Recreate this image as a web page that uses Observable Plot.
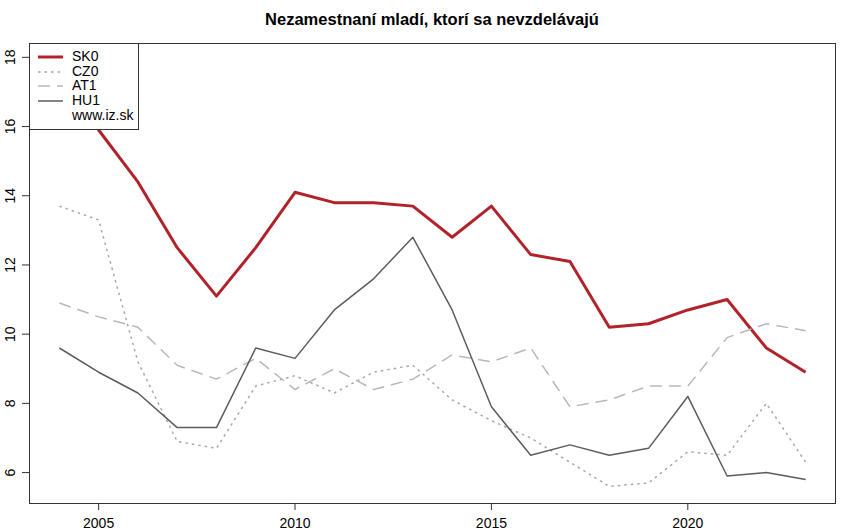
<!DOCTYPE html>
<html>
<head>
<meta charset="utf-8">
<script src="https://cdn.jsdelivr.net/npm/d3@7"></script>
<script src="https://cdn.jsdelivr.net/npm/@observablehq/plot@0.6"></script>
<style>
  body { margin: 0; background: #fff; font-family: "Liberation Sans", Arial, sans-serif; }
  #wrap { position: relative; width: 850px; height: 532px; }
  #title { position: relative; height: 30px; width: 850px; }
  #title span { position: absolute; left: 432px; top: 9px; transform: translateX(-50%); white-space: nowrap;
           font-weight: bold; font-size: 16.5px; line-height: 20px; }
  #legend { position: absolute; left: 29px; top: 43px; width: 108px; height: 85px; background: #fff;
            border: 1px solid #333; font-size: 14px; }
  .row { position: absolute; left: 0; height: 15px; }
  .row svg { position: absolute; left: 8px; top: 2px; }
  .row span { position: absolute; left: 42px; top: -2px; white-space: nowrap; }
</style>
</head>
<body>
<div id="wrap">
  <div id="title"><span>Nezamestnaní mladí, ktorí sa nevzdelávajú</span></div>
  <div id="chart"></div>
  <div id="legend"></div>
</div>
<script>
const years = [2004,2005,2006,2007,2008,2009,2010,2011,2012,2013,2014,2015,2016,2017,2018,2019,2020,2021,2022,2023];
const SK0 = [17.9,15.9,14.4,12.5,11.1,12.5,14.1,13.8,13.8,13.7,12.8,13.7,12.3,12.1,10.2,10.3,10.7,11.0,9.6,8.9];
const CZ0 = [13.7,13.3,9.2,6.9,6.7,8.5,8.8,8.3,8.9,9.1,8.1,7.5,7.0,6.3,5.6,5.7,6.6,6.5,8.0,6.3];
const AT1 = [10.9,10.5,10.2,9.1,8.7,9.3,8.4,9.0,8.4,8.7,9.4,9.2,9.6,7.9,8.1,8.5,8.5,9.9,10.3,10.1];
const HU1 = [9.6,8.9,8.3,7.3,7.3,9.6,9.3,10.7,11.6,12.8,10.7,7.9,6.5,6.8,6.5,6.7,8.2,5.9,6.0,5.8];
const xTicks = [2005,2010,2015,2020];
const yTicks = [6,8,10,12,14,16,18];
const seriesNames = ["SK0","CZ0","AT1","HU1"];
const seriesValues = [SK0, CZ0, AT1, HU1];
const styles = {
  SK0: {stroke: "#b2222a", strokeWidth: 3, dash: null},
  CZ0: {stroke: "#a8a8ac", strokeWidth: 1.5, dash: "2.5,4"},
  AT1: {stroke: "#b3b9c1", strokeWidth: 1.5, dash: "12,7"},
  HU1: {stroke: "#5c5c5c", strokeWidth: 1.5, dash: null}
};

const lineMarks = seriesNames.map((name, i) => {
  const rows = years.map((y, j) => ({year: y, value: seriesValues[i][j]}));
  const s = styles[name];
  return Plot.line(rows, {x: "year", y: "value", stroke: s.stroke, strokeWidth: s.strokeWidth,
    strokeDasharray: s.dash, strokeLinejoin: "round", strokeLinecap: "butt"});
});

const chart = Plot.plot({
  width: 850,
  height: 502,
  marginLeft: 29,
  marginRight: 15,
  marginTop: 13,
  marginBottom: 29,
  style: {fontFamily: "Liberation Sans, Arial, sans-serif", fontSize: "14px", color: "#000", background: "#fff"},
  x: {domain: [2003.24, 2023.76], label: null},
  y: {domain: [5.106, 18.4], label: null},
  marks: [
    ...lineMarks,
    Plot.frame({stroke: "#333", strokeWidth: 1}),
    Plot.axisX(xTicks, {tickSize: 7, tickPadding: 8, tickFormat: d => String(d), stroke: "#333", fill: "#000", fontSize: 14}),
    Plot.axisY(yTicks, {tickSize: 7, tickPadding: 8, tickRotate: -90, stroke: "#333", fill: "#000", fontSize: 14})
  ]
});
document.getElementById("chart").appendChild(chart);

// legend
const legend = document.getElementById("legend");
const legendItems = [...seriesNames, "www.iz.sk"];
legendItems.forEach((name, i) => {
  const row = document.createElement("div");
  row.className = "row";
  row.style.top = (6 + i * 14.7) + "px";
  row.style.width = "108px";
  const s = styles[name];
  if (s) {
    const ns = "http://www.w3.org/2000/svg";
    const svg = document.createElementNS(ns, "svg");
    svg.setAttribute("width", "26");
    svg.setAttribute("height", "10");
    const ln = document.createElementNS(ns, "line");
    ln.setAttribute("x1", "0"); ln.setAttribute("x2", "25");
    ln.setAttribute("y1", "5"); ln.setAttribute("y2", "5");
    ln.setAttribute("stroke", s.stroke);
    ln.setAttribute("stroke-width", s.strokeWidth);
    if (s.dash) ln.setAttribute("stroke-dasharray", s.dash);
    svg.appendChild(ln);
    row.appendChild(svg);
  }
  const t = document.createElement("span");
  t.textContent = name;
  row.appendChild(t);
  legend.appendChild(row);
});
</script>
</body>
</html>
